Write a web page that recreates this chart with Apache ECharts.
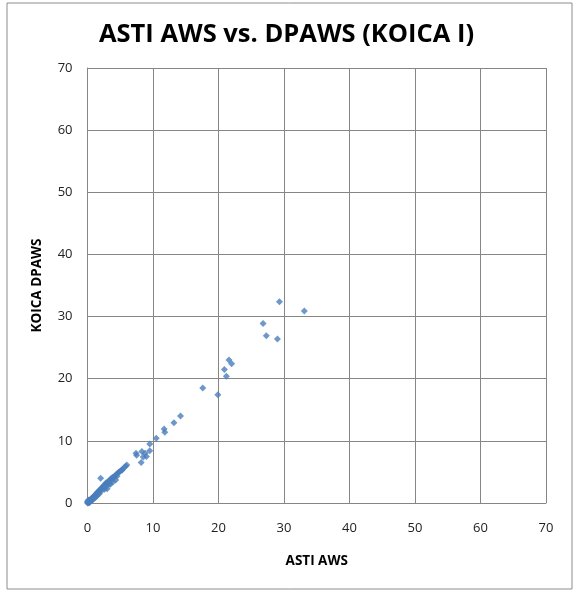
<!DOCTYPE html>
<html>
<head>
<meta charset="utf-8">
<script src="https://cdn.jsdelivr.net/npm/echarts@6/dist/echarts.min.js"></script>
<style>
  html, body { margin: 0; padding: 0; background: #fff; }
  #chart { width: 573px; height: 591px; }
</style>
</head>
<body>
<div id="chart"></div>
<script>
// ASTI AWS (x) vs KOICA DPAWS (y)
const astiAws = [
  0.0, 0.1, 0.1, 0.2, 0.2, 0.3, 0.3, 0.4, 0.5, 0.5, 0.6, 0.7, 0.8, 0.9, 1.0,
  1.0, 1.1, 1.2, 1.3, 1.4, 1.5, 1.6, 1.7, 1.8, 1.9, 2.0, 2.1, 2.2, 2.3, 2.4,
  2.5, 2.6, 2.7, 2.8, 2.9, 3.0, 3.1, 3.2, 3.3, 3.4, 3.5, 3.6, 3.7, 3.8, 3.9,
  4.0, 4.2, 4.4, 4.6, 4.8, 5.0, 5.2, 5.5, 5.8, 6.0, 0.3, 0.6, 1.2, 1.8, 2.6,
  3.5, 3.9, 2.0, 3.0, 4.3, 0.0, 0.2, 0.4, 0.1, 0.7, 1.4, 2.2, 2.8, 3.3, 4.5,
  5.3, 1.6, 0.9,
  7.4, 7.5, 8.3, 8.8, 9.0, 8.5, 8.2, 9.5, 9.5, 10.5, 11.7, 11.8, 13.2, 14.2,
  17.6, 19.9, 20.9, 21.2, 21.6, 22.0, 26.8, 27.3, 29.0, 29.3, 33.1
];
const koicaDpaws = [
  0.0, 0.2, 0.0, 0.3, 0.1, 0.4, 0.2, 0.5, 0.6, 0.4, 0.7, 0.8, 0.9, 1.0, 1.1,
  0.9, 1.2, 1.3, 1.4, 1.6, 1.6, 1.8, 1.8, 2.0, 2.1, 2.2, 2.3, 2.5, 2.4, 2.7,
  2.7, 2.9, 2.9, 3.2, 3.0, 3.3, 3.2, 3.5, 3.4, 3.7, 3.6, 3.9, 3.8, 4.1, 4.0,
  4.2, 4.4, 4.6, 4.8, 5.0, 5.1, 5.3, 5.6, 5.9, 6.1, 0.1, 0.4, 0.9, 1.5, 2.2,
  3.0, 3.4, 4.0, 2.3, 3.7, 0.2, 0.5, 0.2, 0.4, 0.5, 1.1, 2.0, 2.6, 3.0, 4.3,
  5.3, 1.4, 0.6,
  8.0, 7.7, 8.3, 8.0, 7.5, 7.4, 6.5, 9.5, 8.4, 10.4, 11.9, 11.4, 12.9, 14.0,
  18.5, 17.4, 21.5, 20.4, 23.0, 22.4, 28.9, 26.9, 26.4, 32.4, 30.9
];
const axisTicks = [0, 10, 20, 30, 40, 50, 60, 70];

const points = astiAws.map((x, i) => [x, koicaDpaws[i]]);

const chart = echarts.init(document.getElementById('chart'), null, { renderer: 'canvas' });

const axisFont = { fontFamily: 'Open Sans', fontSize: 13, color: '#222' };
const nameFont = { fontFamily: 'Open Sans', fontWeight: 'bold', fontSize: 13.5, color: '#000' };

chart.setOption({
  animation: false,
  backgroundColor: '#fff',
  title: {
    text: 'ASTI AWS vs. DPAWS (KOICA I)',
    left: 'center',
    top: 17,
    textStyle: { fontFamily: 'Open Sans', fontWeight: 'bold', fontSize: 25.5, color: '#000' }
  },
  graphic: [{
    type: 'rect',
    shape: { x: 7, y: 3, width: 565, height: 586 },
    style: { fill: 'none', stroke: '#8c8c8c', lineWidth: 1 },
    silent: true
  }],
  grid: { left: 87.5, right: 27, top: 68, bottom: 88 },
  xAxis: {
    type: 'value',
    min: axisTicks[0],
    max: axisTicks[axisTicks.length - 1],
    interval: 10,
    name: 'ASTI AWS',
    nameLocation: 'middle',
    nameGap: 51,
    nameTextStyle: nameFont,
    axisLine: { show: true, lineStyle: { color: '#868686', width: 1 } },
    axisTick: { show: false },
    axisLabel: Object.assign({ margin: 19 }, axisFont),
    splitLine: { show: true, lineStyle: { color: '#868686', width: 1 } }
  },
  yAxis: {
    type: 'value',
    min: axisTicks[0],
    max: axisTicks[axisTicks.length - 1],
    interval: 10,
    name: 'KOICA DPAWS',
    nameLocation: 'middle',
    nameGap: 43,
    nameTextStyle: nameFont,
    axisLine: { show: true, lineStyle: { color: '#868686', width: 1 } },
    axisTick: { show: false },
    axisLabel: Object.assign({ margin: 15 }, axisFont),
    splitLine: { show: true, lineStyle: { color: '#868686', width: 1 } }
  },
  series: [{
    type: 'scatter',
    symbol: 'diamond',
    symbolSize: 7,
    itemStyle: { color: '#4a7ebb' },
    data: points
  }]
});
</script>
</body>
</html>
